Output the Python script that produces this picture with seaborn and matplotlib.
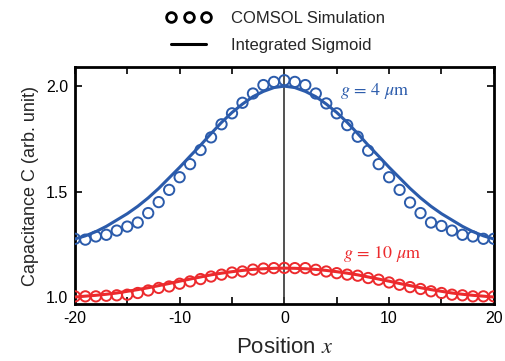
import numpy as np
import pandas as pd
import seaborn as sns
import matplotlib
matplotlib.use("Agg")
import matplotlib.pyplot as plt
from matplotlib.lines import Line2D

# ---- data ----
positions = list(range(-20, 21))

sim_g4 = [1.276, 1.272, 1.287, 1.295, 1.315, 1.334, 1.353, 1.398, 1.450, 1.508,
          1.568, 1.630, 1.697, 1.757, 1.819, 1.871, 1.921, 1.965, 2.005, 2.020,
          2.028,
          2.020, 2.005, 1.965, 1.918, 1.871, 1.815, 1.760, 1.694, 1.630, 1.568,
          1.508, 1.448, 1.398, 1.353, 1.337, 1.315, 1.295, 1.287, 1.276, 1.276]

fit_g4 = [1.275, 1.290, 1.310, 1.335, 1.365, 1.395, 1.430, 1.470, 1.515, 1.565,
          1.615, 1.668, 1.720, 1.775, 1.828, 1.875, 1.915, 1.950, 1.975, 1.993,
          2.000,
          1.993, 1.975, 1.950, 1.915, 1.875, 1.828, 1.775, 1.720, 1.668, 1.615,
          1.565, 1.515, 1.470, 1.430, 1.395, 1.365, 1.335, 1.310, 1.290, 1.275]

sim_g10 = [1.003, 1.003, 1.003, 1.006, 1.008, 1.011, 1.019, 1.031, 1.043, 1.050,
           1.063, 1.074, 1.085, 1.097, 1.106, 1.116, 1.121, 1.130, 1.135, 1.137,
           1.138,
           1.137, 1.137, 1.129, 1.121, 1.113, 1.106, 1.101, 1.090, 1.082, 1.069,
           1.058, 1.047, 1.038, 1.027, 1.019, 1.011, 1.008, 1.003, 1.003, 1.003]

fit_g10 = [1.000, 1.004, 1.008, 1.013, 1.019, 1.027, 1.035, 1.044, 1.054, 1.064,
           1.075, 1.085, 1.095, 1.105, 1.113, 1.120, 1.126, 1.131, 1.134, 1.136,
           1.137,
           1.136, 1.134, 1.131, 1.126, 1.120, 1.113, 1.105, 1.095, 1.085, 1.075,
           1.064, 1.054, 1.044, 1.035, 1.027, 1.019, 1.013, 1.008, 1.004, 1.000]

x_ticks = [-20, -10, 0, 10, 20]
x_minor = [-15, -5, 5, 15]
y_ticks = [1.0, 1.5, 2.0]

blue = "#2b5bab"
red = "#ec2a2d"

sns.set_theme(style="ticks")
plt.rcParams['font.family'] = ['Liberation Sans', 'DejaVu Sans']
plt.rcParams['mathtext.fontset'] = 'stix'

fig = plt.figure(figsize=(5.06, 3.61), dpi=100)
ax = fig.add_axes([0.148, 0.158, 0.828, 0.656])

df = pd.DataFrame({"x": positions, "s4": sim_g4, "f4": fit_g4,
                   "s10": sim_g10, "f10": fit_g10})

ax.axvline(0, color="#333333", lw=1.2, zorder=1)

sns.lineplot(data=df, x="x", y="f4", ax=ax, color=blue, lw=2.2, zorder=3)
sns.lineplot(data=df, x="x", y="f10", ax=ax, color=red, lw=2.2, zorder=3)
sns.scatterplot(data=df, x="x", y="s4", ax=ax, marker="o", s=55,
                facecolors="none", edgecolor=blue, linewidth=1.4, zorder=4)
sns.scatterplot(data=df, x="x", y="s10", ax=ax, marker="o", s=55,
                facecolors="none", edgecolor=red, linewidth=1.4, zorder=4)

ax.set_xlim(-20, 20)
ax.set_ylim(0.967, 2.09)
ax.set_xticks(x_ticks)
ax.set_xticklabels([str(t) for t in x_ticks])
ax.set_xticks(x_minor, minor=True)
ax.set_yticks(y_ticks)
ax.set_yticklabels([f"{t:.1f}" for t in y_ticks])
ax.tick_params(which="both", direction="in", top=True, right=True,
               length=5, width=1.2, labelsize=11.5, colors="black", pad=5)
for s in ax.spines.values():
    s.set_linewidth(2)
    s.set_color("black")
    s.set_visible(True)

ax.set_xlabel(r"Position $x$", fontsize=16, labelpad=8)
ax.set_ylabel("Capacitance C (arb. unit)", fontsize=13, labelpad=5)

ax.text(5.3, 1.96, r"$g\,=\,4\ \mu\mathrm{m}$", color=blue, fontsize=13)
ax.text(5.6, 1.185, r"$g\,=\,10\ \mu\mathrm{m}$", color=red, fontsize=13)

handles = [Line2D([], [], ls="none", marker="o", markersize=7,
                  markerfacecolor="none", markeredgecolor="black",
                  markeredgewidth=2),
           Line2D([], [], color="black", lw=2.2)]
fig.legend(handles, ["COMSOL Simulation", "Integrated Sigmoid"],
           loc="upper center", bbox_to_anchor=(0.545, 1.012), frameon=False,
           numpoints=3, fontsize=12, handlelength=2.7, handletextpad=1.2,
           labelspacing=0.75)

fig.savefig("out.png", dpi=100)
